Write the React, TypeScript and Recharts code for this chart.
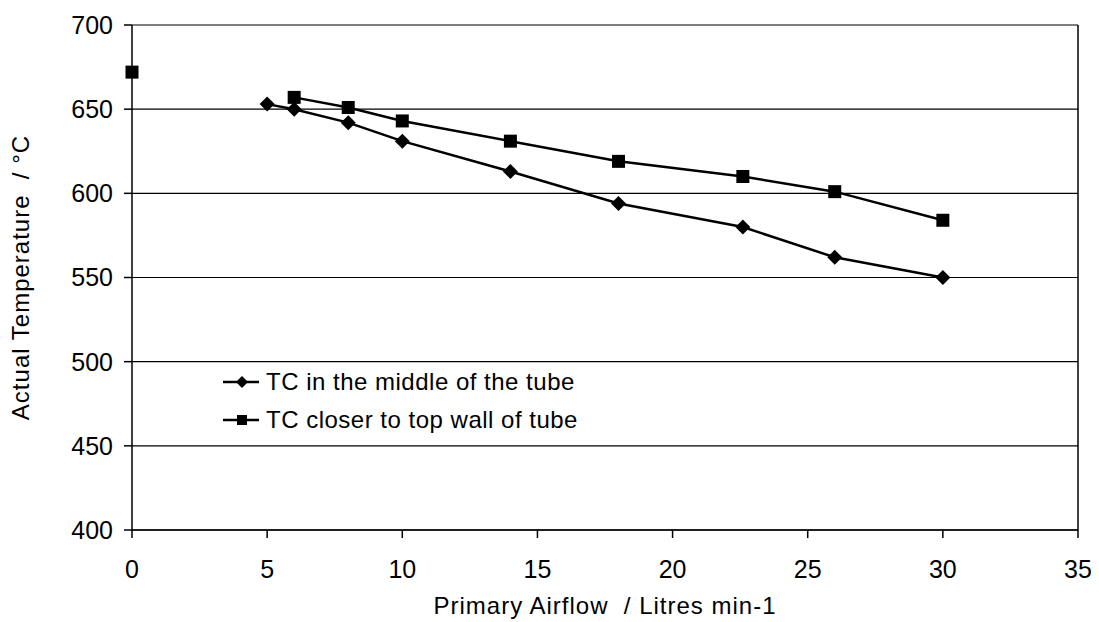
import React from "react";
import { LineChart, Line, XAxis, YAxis, CartesianGrid, ReferenceLine } from "recharts";

// TC in the middle of the tube
const airflowMiddle = [5, 6, 8, 10, 14, 18, 22.6, 26, 30];
const tempMiddle = [653, 650, 642, 631, 613, 594, 580, 562, 550];

// TC closer to top wall of tube (first reading at 0 is not joined to the rest)
const airflowTop = [0, 6, 8, 10, 14, 18, 22.6, 26, 30];
const tempTop = [672, 657, 651, 643, 631, 619, 610, 601, 584];

const xTicks = [0, 5, 10, 15, 20, 25, 30, 35];
const yTicks = [400, 450, 500, 550, 600, 650, 700];

const FONT = "'Liberation Sans', Arial, sans-serif";
const tick = { fill: "#000", fontSize: 25, fontFamily: FONT };

const middleData = airflowMiddle.map((x, i) => ({ x, y: tempMiddle[i] }));
const topData = airflowTop.map((x, i) => ({ x, y: tempTop[i] }));

function Diamond(props: any) {
  const { cx, cy } = props;
  if (cx == null || cy == null) return null;
  const r = 7.5;
  return <path d={`M${cx},${cy - r}L${cx + r},${cy}L${cx},${cy + r}L${cx - r},${cy}Z`} fill="#000" />;
}

function Square(props: any) {
  const { cx, cy } = props;
  if (cx == null || cy == null) return null;
  const s = 6.5;
  return <rect x={cx - s} y={cy - s} width={s * 2} height={s * 2} fill="#000" />;
}

function LegendBox() {
  const rows = [
    { label: "TC in the middle of the tube", shape: "diamond" },
    { label: "TC closer to top wall of tube", shape: "square" },
  ];
  return (
    <div style={{ fontFamily: FONT, fontSize: 24, letterSpacing: 0.5, color: "#000" }}>
      {rows.map((r) => (
        <div key={r.label} style={{ display: "flex", alignItems: "center", height: 38 }}>
          <svg width={37} height={20} style={{ marginRight: 6 }}>
            <line x1={0} y1={10} x2={36} y2={10} stroke="#000" strokeWidth={2.5} />
            {r.shape === "diamond" ? (
              <path d="M19,4L25,10L19,16L13,10Z" fill="#000" />
            ) : (
              <rect x={14} y={5} width={10} height={10} fill="#000" />
            )}
          </svg>
          <span>{r.label}</span>
        </div>
      ))}
    </div>
  );
}

function YTitle(props: any) {
  const { viewBox } = props;
  const x = 21;
  const y = viewBox.y + viewBox.height / 2;
  return (
    <text x={x} y={y} transform={`rotate(-90 ${x} ${y})`} textAnchor="middle"
      fill="#000" fontSize={24} letterSpacing={1} fontFamily={FONT} style={{ whiteSpace: "pre" }}>
      Actual Temperature  / °C
    </text>
  );
}

function XTitle(props: any) {
  const { viewBox } = props;
  const x = viewBox.x + viewBox.width / 2;
  return (
    <text x={x} y={606} textAnchor="middle" fill="#000" fontSize={24} letterSpacing={1}
      fontFamily={FONT} style={{ whiteSpace: "pre" }}>
      Primary Airflow  / Litres min-1
    </text>
  );
}

export default function App() {
  return (
    <div style={{ position: "relative", width: 1091, height: 614, background: "#fff" }}>
      <LineChart width={1091} height={614} margin={{ top: 17, right: 21, bottom: 8, left: 0 }}>
        <CartesianGrid vertical={false} stroke="#000" strokeWidth={1.2} />
        <XAxis
          type="number"
          dataKey="x"
          domain={[0, 35]}
          ticks={xTicks}
          tick={tick}
          tickSize={8}
          tickMargin={22}
          height={84}
          stroke="#000"
          strokeWidth={1.5}
          label={<XTitle />}
        />
        <YAxis
          type="number"
          dataKey="y"
          domain={[400, 700]}
          ticks={yTicks}
          tick={tick}
          tickSize={8}
          tickMargin={11}
          width={124}
          stroke="#000"
          strokeWidth={1.5}
          label={<YTitle />}
        />
        <ReferenceLine x={35} stroke="#000" strokeWidth={1.5} />
        <Line
          data={middleData}
          dataKey="y"
          stroke="#000"
          strokeWidth={2.5}
          dot={<Diamond />}
          activeDot={false}
          isAnimationActive={false}
          legendType="none"
        />
        <Line
          data={topData.slice(1)}
          dataKey="y"
          stroke="#000"
          strokeWidth={2.5}
          dot={<Square />}
          activeDot={false}
          isAnimationActive={false}
          legendType="none"
        />
        <Line
          data={topData.slice(0, 1)}
          dataKey="y"
          stroke="none"
          dot={<Square />}
          activeDot={false}
          isAnimationActive={false}
          legendType="none"
        />
      </LineChart>
      <div style={{ position: "absolute", left: 215, top: 355 }}>
        <LegendBox />
      </div>
    </div>
  );
}
